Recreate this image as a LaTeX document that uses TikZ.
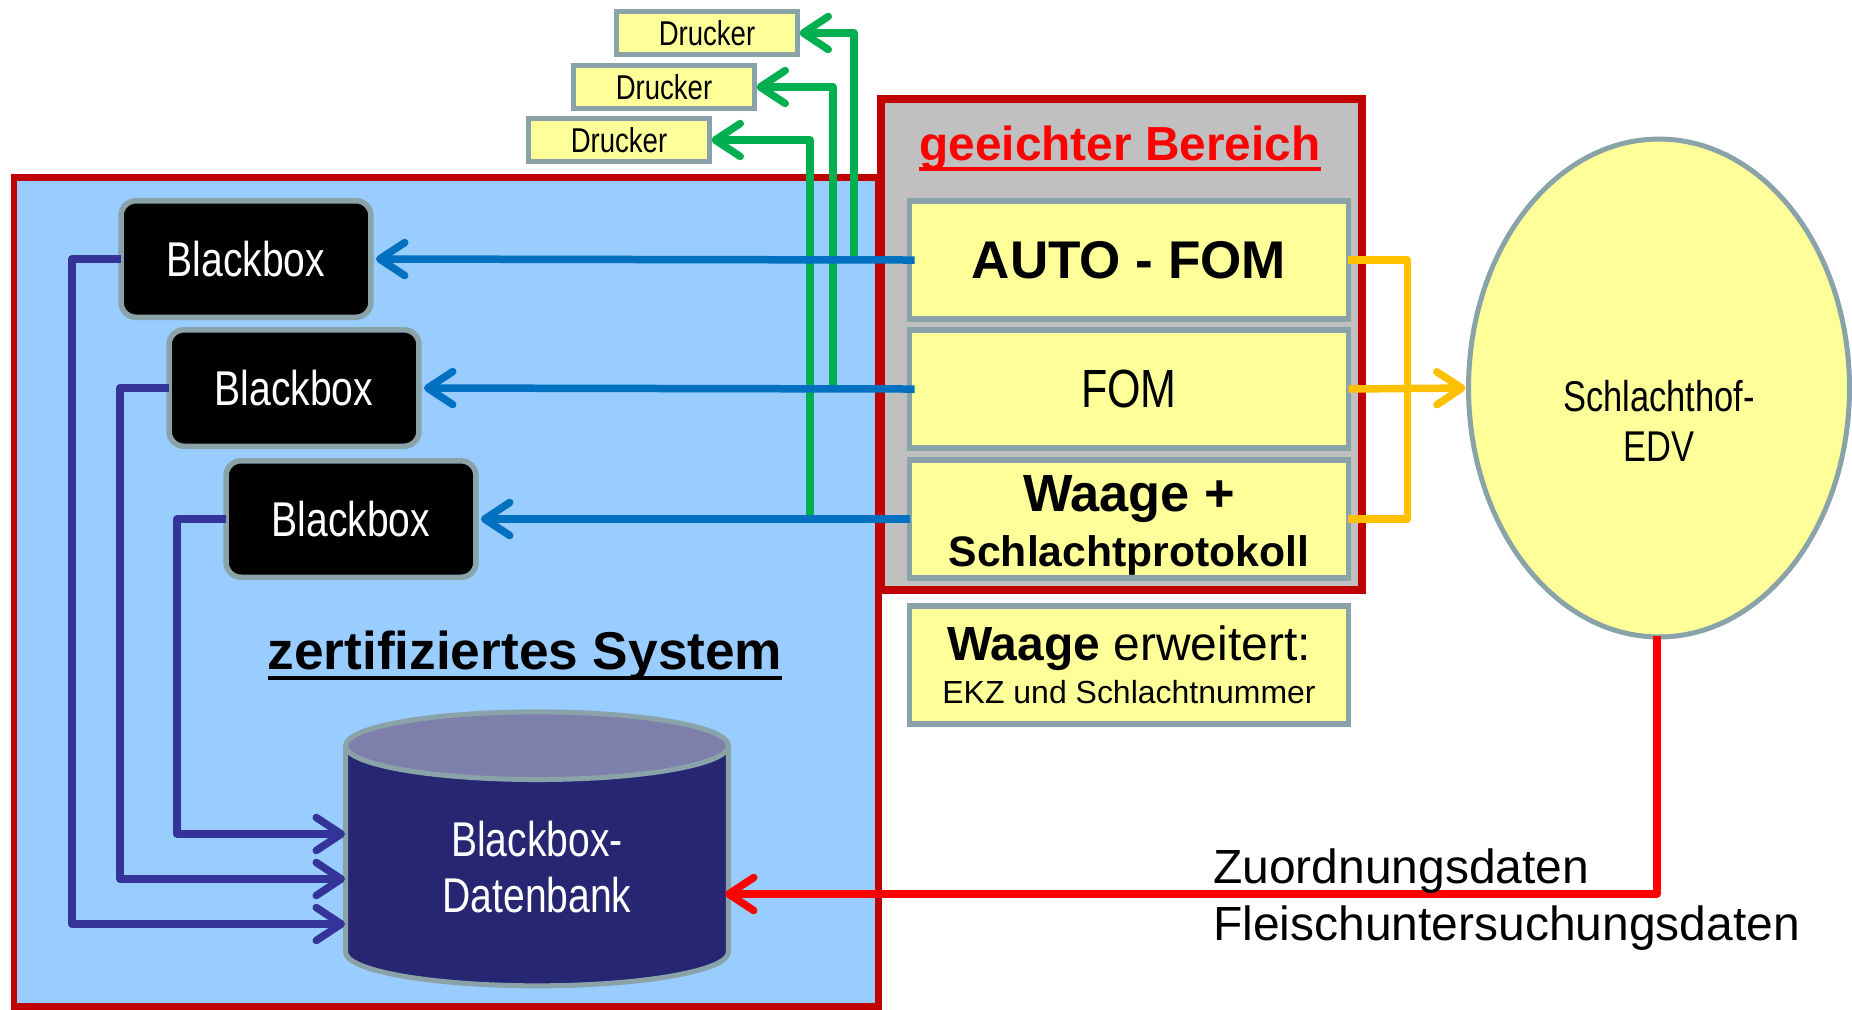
\documentclass[tikz,border=0pt]{standalone}
\usepackage{fontspec}
\setmainfont{Liberation Sans}
\newfontfamily\narrowfont[FakeStretch=0.8]{Liberation Sans}
\usetikzlibrary{arrows.meta,shapes.geometric}
\definecolor{boxline}{HTML}{8AA3A8}
\definecolor{boxfill}{HTML}{FFFF99}
\definecolor{certblue}{HTML}{99CCFF}
\definecolor{darkred}{HTML}{C00000}
\definecolor{boxgrey}{HTML}{C0C0C0}
\definecolor{linkblue}{HTML}{0070C0}
\definecolor{linkgreen}{HTML}{00B050}
\definecolor{linkorange}{HTML}{FFC000}
\definecolor{linkindigo}{HTML}{333399}
\definecolor{dbbody}{HTML}{262673}
\definecolor{dbtop}{HTML}{7F7FAB}
\newcommand{\fsize}[2]{\fontsize{#1}{#2}\selectfont}
\newcommand{\ulbar}[1]{\leavevmode\vtop{\hbox{\smash{#1}}\kern3.6pt\hrule height 2.2pt}}
\tikzset{
  yellowbox/.style={draw=boxline, fill=boxfill, line width=0.11cm, inner sep=0pt, outer sep=0pt, align=center, minimum width=8.78cm},
  printerbox/.style={draw=boxline, fill=boxfill, line width=0.11cm, inner sep=0pt, outer sep=0pt, minimum width=3.62cm, minimum height=0.86cm, font=\narrowfont\fsize{19.6}{20}},
  blackbox/.style={draw=boxline, fill=black, text=white, line width=0.11cm, rounded corners=0.3cm, inner sep=0pt, outer sep=0pt, minimum width=5cm, minimum height=2.33cm, font=\narrowfont\fsize{27.8}{28}},
  link/.style={line width=0.15cm, line join=round, -{Straight Barb[length=0.5cm,width=0.66cm,round,line width=0.15cm]}},
  plainlink/.style={line width=0.15cm, line join=round}
}
\begin{document}
\begin{tikzpicture}[x=0.02cm, y=-0.02cm]
  \useasboundingbox (0,0) rectangle (1852,1009);
  % the two frames
  \draw [draw=darkred, fill=certblue, line width=0.14cm] (14,177) rectangle (878,1006);
  \draw [draw=darkred, fill=boxgrey, line width=0.16cm] (881,99) rectangle (1362,590);
  \node [font=\bfseries\fsize{27.2}{28}, text=red] (calname) at (1120,166) {\ulbar{geeichter Bereich}};
  \node [font=\bfseries\fsize{30.3}{31}] (certname) at (525,675) {\ulbar{zertifiziertes System}};
  % yellow boxes
  \node [yellowbox, minimum height=2.36cm, font=\bfseries\fsize{30.2}{31}] (auto) at (1129,260) {AUTO - FOM};
  \node [yellowbox, minimum height=2.36cm, font=\narrowfont\fsize{30.6}{31}] (fom) at (1129,389) {FOM};
  \node [yellowbox, minimum height=2.36cm, font=\bfseries] (scale) at (1129,519) {\fsize{29.8}{30.6}\rule{0pt}{28.1pt}Waage +\\[6.5pt]\fsize{24.3}{30.6}Schlachtprotokoll};
  \node [yellowbox, minimum height=2.36cm] (scaleplus) at (1129,665) {\fsize{27.3}{30}\textbf{Waage} erweitert:\\[4.5pt]\fsize{18.2}{23}EKZ und Schlachtnummer};
  \node [printerbox] (printa) at (707,33) {Drucker};
  \node [printerbox] (printb) at (664,87) {Drucker};
  \node [printerbox] (printc) at (619,140) {Drucker};
  \node [blackbox] (boxa) at (246,259) {Blackbox};
  \node [blackbox] (boxb) at (294,388) {Blackbox};
  \node [blackbox] (boxc) at (351,519) {Blackbox};
  % database and slaughterhouse system
  \node [cylinder, shape border rotate=90, aspect=0.358, draw=boxline, line width=0.1cm, inner sep=0pt, outer sep=0pt,
    minimum width=7.66cm, minimum height=5.48cm, cylinder uses custom fill, cylinder body fill=dbbody, cylinder end fill=dbtop,
    text=white, align=center, font=\narrowfont\fsize{27.8}{31.5}] (db) at (537,867) {Blackbox-\\Datenbank};
  \node [ellipse, draw=boxline, fill=boxfill, line width=0.1cm, inner sep=0pt, outer sep=0pt, minimum width=7.62cm, minimum height=9.96cm] (edv) at (1659,388) {};
  \node [align=center, font=\narrowfont\fsize{24.5}{28.5}] (edvname) at (1659,421) {Schlachthof-\\EDV};
  \coordinate (greena) at (854,260);
  \coordinate (greenb) at (833,389);
  \coordinate (greenc) at (810,519);
  \coordinate (dbina) at (345,834);
  \coordinate (dbinb) at (345,879);
  \coordinate (dbinc) at (345,924);
  \coordinate (dbred) at (725,894);
  \coordinate (edvout) at (1657,636);
  % printers hang off the blue lines
  \draw [link, linkgreen, shorten >=0.04cm] (greena) |- (printa.east);
  \draw [link, linkgreen, shorten >=0.04cm] (greenb) |- (printb.east);
  \draw [link, linkgreen, shorten >=0.04cm] (greenc) |- (printc.east);
  \draw [link, linkblue, shorten >=0.1cm, shorten <=-0.1cm] (auto.west) -- (boxa.east);
  \draw [link, linkblue, shorten >=0.1cm, shorten <=-0.1cm] (fom.west) -- (boxb.east);
  \draw [link, linkblue, shorten >=0.1cm] (scale.west) -- (boxc.east);
  % down into the database
  \draw [link, linkindigo] (boxa.west) -- ++(-49,0) |- (dbinc);
  \draw [link, linkindigo] (boxb.west) -- ++(-49,0) |- (dbinb);
  \draw [link, linkindigo] (boxc.west) -- ++(-49,0) |- (dbina);
  % out to the EDV
  \draw [plainlink, linkorange] (auto.east) -- ++(59,0) |- (scale.east);
  \draw [link, linkorange, shorten >=0.06cm] (fom.east) -- (edv.west);
  \draw [link, red] (edvout) |- (dbred);
  \node [anchor=west, align=left, font=\fsize{27.3}{32.4}] (dataname) at (1207,900) {Zuordnungsdaten\\Fleischuntersuchungsdaten};
\end{tikzpicture}
\end{document}
